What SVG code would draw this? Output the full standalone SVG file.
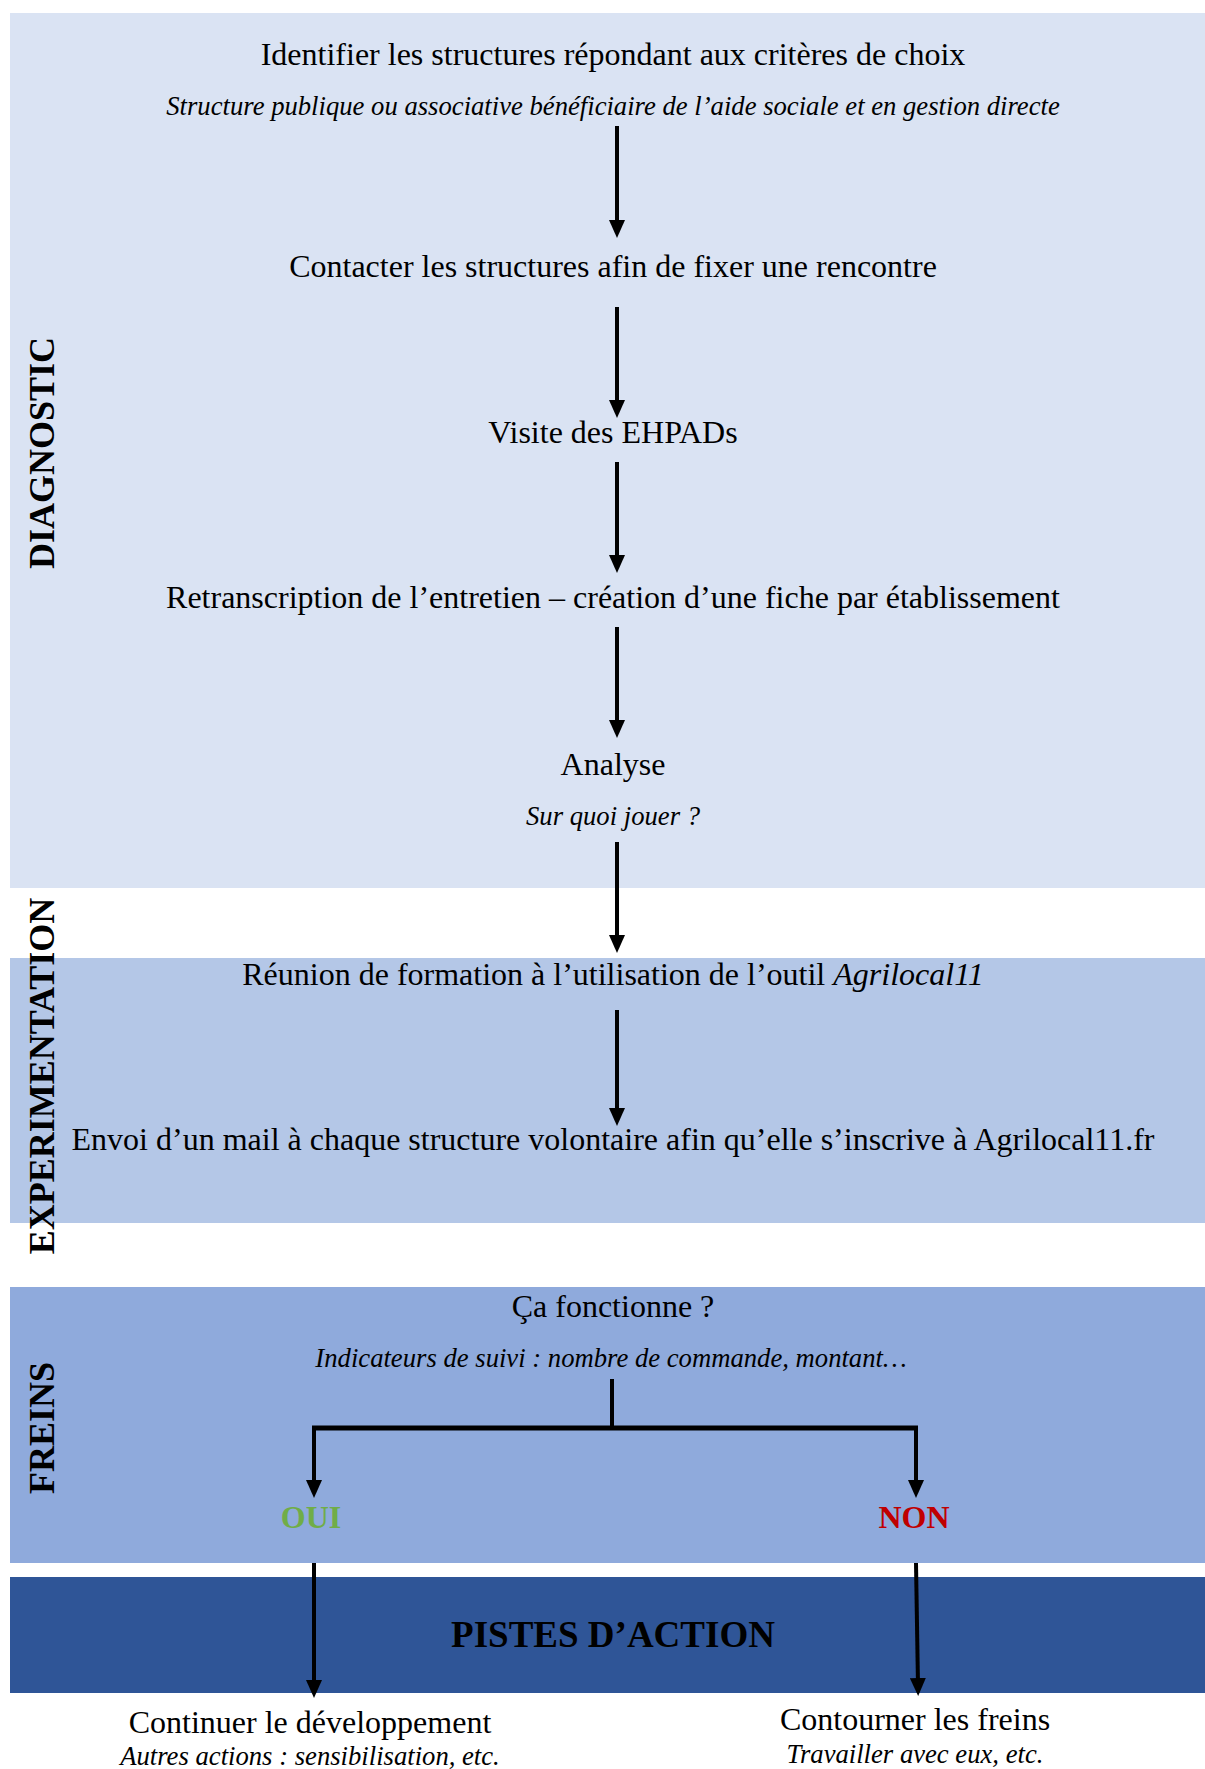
<svg xmlns="http://www.w3.org/2000/svg" width="1205" height="1769" viewBox="0 0 1205 1769">
<style>
text{font-family:"Liberation Serif","Times New Roman",serif;fill:#000}
.m{font-size:32px;text-anchor:middle}
.i{font-size:26.67px;font-style:italic;text-anchor:middle}
.v{font-size:36px;font-weight:bold;text-anchor:middle}
.c{stroke:#000;stroke-width:4;fill:none}
</style>
<defs>
<marker id="ah" markerUnits="userSpaceOnUse" markerWidth="18" markerHeight="16" refX="8" refY="8" orient="auto"><path d="M0,0 L18,8 L0,16 z" fill="#000"/></marker>
</defs>
<g id="bands">
<rect id="band-diagnostic" x="10" y="13" width="1195" height="875" fill="#DAE3F3"/>
<rect id="band-experimentation" x="10" y="958" width="1195" height="265" fill="#B4C7E7"/>
<rect id="band-freins" x="10" y="1287" width="1195" height="276" fill="#8FAADC"/>
<rect id="band-pistes" x="10" y="1577" width="1195" height="116" fill="#2F5597"/>
</g>
<g id="labels">
<text class="v" transform="translate(54,453) rotate(-90)">DIAGNOSTIC</text>
<text class="v" transform="translate(54,1076) rotate(-90)">EXPERIMENTATION</text>
<text class="v" transform="translate(54,1428) rotate(-90)">FREINS</text>
</g>
<g id="connectors">
<line class="c" x1="617" y1="126" x2="617" y2="228" marker-end="url(#ah)"/>
<line class="c" x1="617" y1="307" x2="617" y2="408" marker-end="url(#ah)"/>
<line class="c" x1="617" y1="462" x2="617" y2="563" marker-end="url(#ah)"/>
<line class="c" x1="617" y1="627" x2="617" y2="728" marker-end="url(#ah)"/>
<line class="c" x1="617" y1="842" x2="617" y2="943" marker-end="url(#ah)"/>
<line class="c" x1="617" y1="1010" x2="617" y2="1116" marker-end="url(#ah)"/>
<line class="c" x1="612" y1="1379" x2="612" y2="1428"/>
<line class="c" x1="312" y1="1428" x2="918" y2="1428" style="stroke-width:5"/>
<line class="c" x1="314" y1="1426" x2="314" y2="1488" marker-end="url(#ah)"/>
<line class="c" x1="916" y1="1426" x2="916" y2="1488" marker-end="url(#ah)"/>
<line class="c" x1="314" y1="1563" x2="314" y2="1688" marker-end="url(#ah)"/>
<line class="c" x1="916" y1="1563" x2="918" y2="1686" marker-end="url(#ah)"/>
</g>
<g id="n1"><text class="m" x="613" y="65">Identifier les structures répondant aux critères de choix</text>
<text class="i" x="613" y="115">Structure publique ou associative bénéficiaire de l’aide sociale et en gestion directe</text></g>
<g id="n2"><text class="m" x="613" y="277">Contacter les structures afin de fixer une rencontre</text></g>
<g id="n3"><text class="m" x="613" y="443">Visite des EHPADs</text></g>
<g id="n4"><text class="m" x="613" y="608">Retranscription de l’entretien – création d’une fiche par établissement</text></g>
<g id="n5"><text class="m" x="613" y="775">Analyse</text>
<text class="i" x="613" y="825">Sur quoi jouer ?</text></g>
<g id="n6"><text class="m" x="613" y="985">Réunion de formation à l’utilisation de l’outil <tspan font-style="italic">Agrilocal11</tspan></text></g>
<g id="n7"><text class="m" x="613" y="1150">Envoi d’un mail à chaque structure volontaire afin qu’elle s’inscrive à Agrilocal11.fr</text></g>
<g id="n8"><text class="m" x="613" y="1317">Ça fonctionne ?</text>
<text class="i" x="611" y="1367">Indicateurs de suivi : nombre de commande, montant…</text></g>
<g id="n9"><text class="m" x="311" y="1528" style="font-weight:bold;fill:#70AD47">OUI</text></g>
<g id="n10"><text class="m" x="914" y="1528" style="font-weight:bold;fill:#C00000">NON</text></g>
<g id="n11"><text class="m" x="613" y="1647" style="font-weight:bold;font-size:37px">PISTES D’ACTION</text></g>
<g id="n12"><text class="m" x="310" y="1733">Continuer le développement</text>
<text class="i" x="310" y="1765">Autres actions : sensibilisation, etc.</text></g>
<g id="n13"><text class="m" x="915" y="1730">Contourner les freins</text>
<text class="i" x="915" y="1763">Travailler avec eux, etc.</text></g>
</svg>
